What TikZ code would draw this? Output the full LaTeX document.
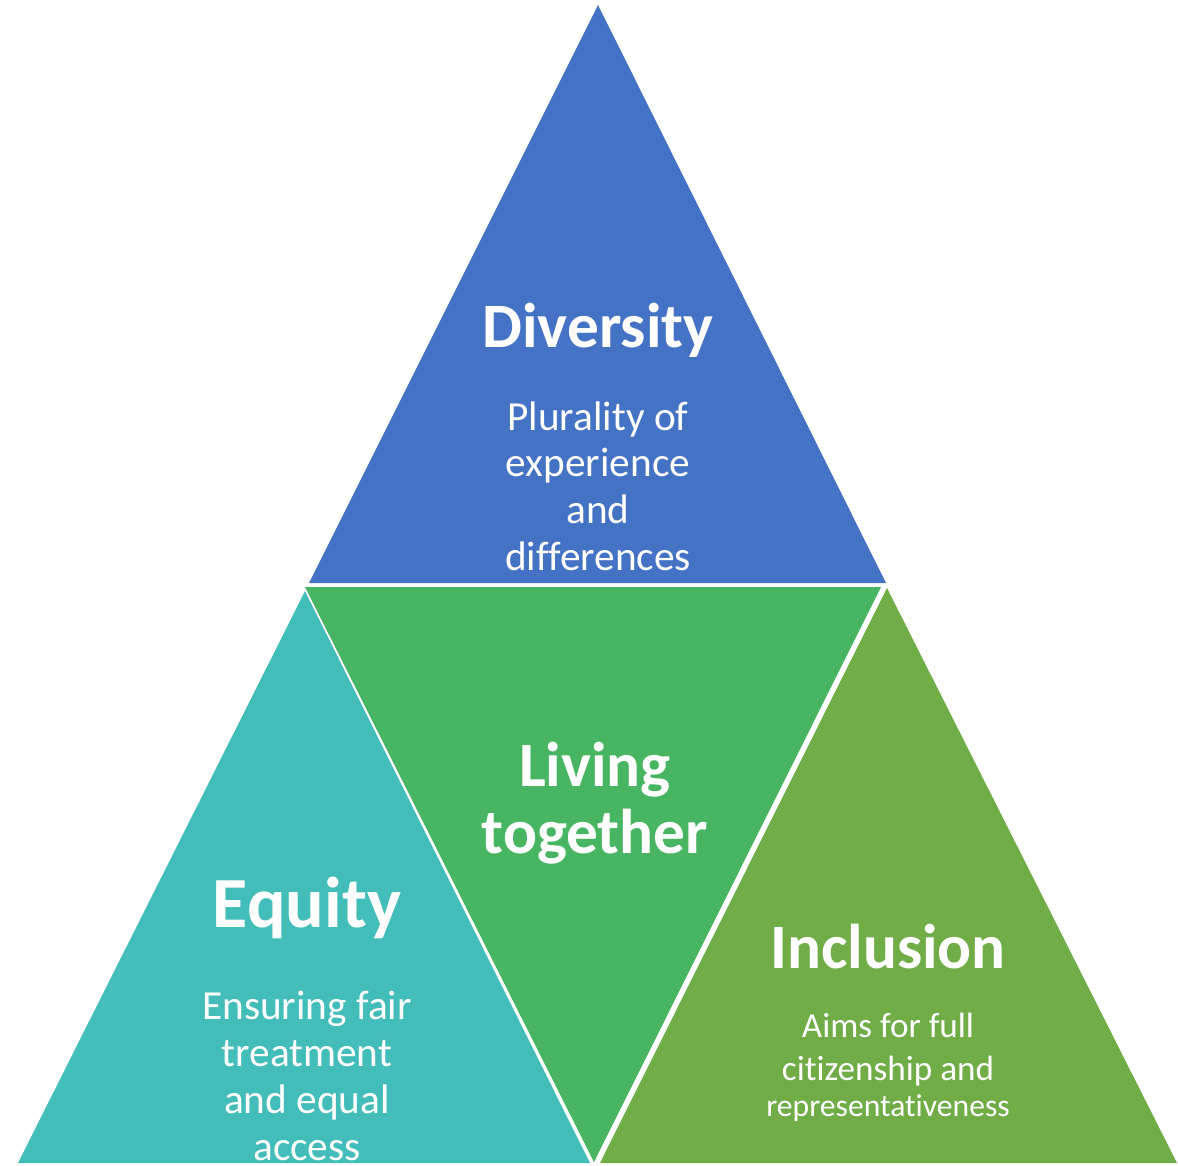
\documentclass[tikz,border=0pt]{standalone}
\usepackage{fontspec}
\setmainfont{Carlito}[RawFeature={-liga;-clig;-calt}]
\usepackage{tikz}

\definecolor{divblue}{HTML}{4472C4}
\definecolor{livgreen}{HTML}{47B562}
\definecolor{eqteal}{HTML}{43BDB9}
\definecolor{incgreen}{HTML}{70AD47}

\begin{document}
\begin{tikzpicture}[
    x=0.02cm, y=-0.02cm,
    title/.style={text=white, align=center, font=\fontsize{36}{38.5}\selectfont\bfseries},
    body/.style={text=white, align=center, font=\fontsize{23.5}{26.6}\selectfont},
    small/.style={text=white, align=center, font=\fontsize{20}{24.4}\selectfont}
  ]
    \useasboundingbox (0,0) rectangle (1178,1166);

    % the four triangles
    \fill[divblue]  (598,5)   -- (886,583)  -- (309,583)  -- cycle;
    \fill[livgreen] (305,587) -- (881,587)  -- (594,1162) -- cycle;
    \fill[eqteal]   (305,591) -- (590,1163) -- (18,1163)  -- cycle;
    \fill[incgreen] (887,588) -- (1177,1163) -- (600,1163) -- cycle;

    % labels
    \node[title] (div)     at (598,330) {Diversity};
    \node[body]  (divtxt)  at (598,486) {Plurality of\\experience\\and\\differences};
    \node[title] (liv)     at (595,803) {Living\\together};
    \node[title, font=\fontsize{41}{42}\selectfont\bfseries] (eq) at (307,908) {Equity};
    \node[body]  (eqtxt)   at (307,1076) {Ensuring fair\\treatment\\and equal\\access};
    \node[title] (inc)     at (888,947) {Inclusion};
    \node[small] (inctxt)  at (888,1050) {Aims for full\\citizenship and};
    \node[text=white, font=\fontsize{18}{22}\selectfont] (increp) at (888,1108) {representativeness};
\end{tikzpicture}
\end{document}
